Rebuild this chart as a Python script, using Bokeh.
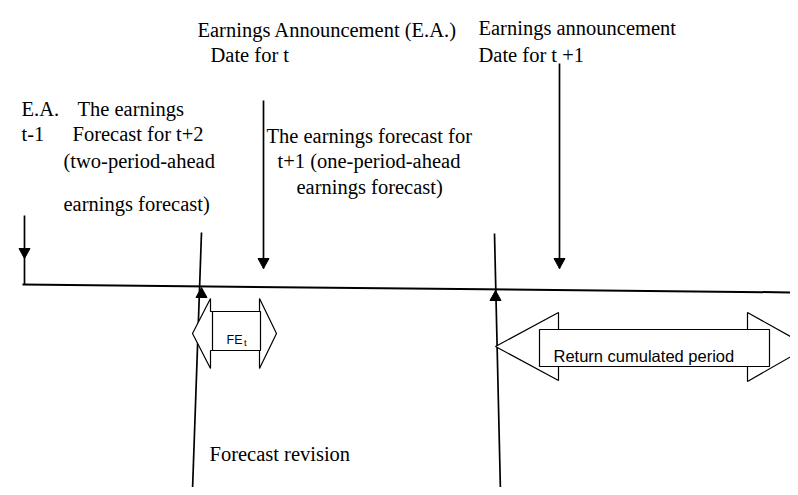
from bokeh.plotting import figure
from bokeh.models import Range1d
from bokeh.core.properties import value
from bokeh.embed import file_html
from bokeh.resources import INLINE

# ---- diagram content (pixel-style coordinates, y grows downward) ----
# main time line
timeline_x = [22, 798]
timeline_y = [284, 292]

# downward event arrows (E.A. t-1, E.A. date t, E.A. date t+1)
down_x = [24, 263, 559]
down_top = [215, 100, 63]
down_tip = [258, 268, 268]
down_end = [284, 268, 268]

# long vertical lines crossing the time line, with up arrowheads
vert_x0 = [201, 494]
vert_y0 = [232, 233]
vert_x1 = [192, 500]
vert_y1 = [490, 492]
up_x = [201, 495]
up_tip = [287, 290]

# serif labels
serif_labels = ["Earnings Announcement (E.A.)", "Date for t",
                "Earnings announcement", "Date for t +1",
                "E.A.", "The earnings", "t-1", "Forecast for t+2",
                "(two-period-ahead", "earnings forecast)",
                "The earnings forecast for", "t+1 (one-period-ahead",
                "earnings forecast)", "Forecast revision"]
serif_x = [197, 210, 478, 478, 21, 77, 21, 72, 63, 63, 266, 277, 296, 209]
serif_y = [29, 54, 27, 54, 108, 108, 133, 133, 160, 203, 135, 160, 186, 453]

# block arrows: FE_t and return cumulated period
fe_arrow_x = [192, 210, 210, 259, 259, 276, 259, 259, 210, 210]
fe_arrow_y = [333, 298, 311, 311, 298, 333, 368, 350, 350, 368]
fe_box = dict(left=212, right=260, top=311, bottom=350)

ret_arrow_x = [495, 558, 558, 747, 747, 808, 747, 747, 558, 558]
ret_arrow_y = [346, 312, 329, 329, 312, 346, 381, 366, 366, 380]
ret_box = dict(left=539, right=769, top=329, bottom=366)

p = figure(width=790, height=487, output_backend="svg", toolbar_location=None,
           x_range=Range1d(0, 790), y_range=Range1d(487, 0),
           min_border=0, background_fill_color="white")
p.axis.visible = False
p.grid.visible = False
p.outline_line_color = None

# time line
p.line(timeline_x, timeline_y, line_color="black", line_width=2)

# downward arrows
for x, t, tip, e in zip(down_x, down_top, down_tip, down_end):
    p.line([x, x], [t, e], line_color="black", line_width=1.7)
    p.patch([x - 5.5, x + 5.5, x], [tip - 10, tip - 10, tip], fill_color="black", line_color="black", line_width=1)

# long verticals with up arrowheads
for x0, y0, x1, y1 in zip(vert_x0, vert_y0, vert_x1, vert_y1):
    p.line([x0, x1], [y0, y1], line_color="black", line_width=1.7)
for x, tip in zip(up_x, up_tip):
    p.patch([x - 5.5, x + 5.5, x], [tip + 10, tip + 10, tip], fill_color="black", line_color="black", line_width=1)

# block arrows
p.patch(fe_arrow_x, fe_arrow_y, fill_color="white", line_color="black", line_width=1.2)
p.quad(fill_color="white", line_color="black", line_width=1.2, **fe_box)
p.patch(ret_arrow_x, ret_arrow_y, fill_color="white", line_color="black", line_width=1.2)
p.quad(fill_color="white", line_color="black", line_width=1.2, **ret_box)

# serif texts
p.text(x=serif_x, y=serif_y, text=serif_labels, text_font=value("Liberation Serif"),
       text_font_size="20.5px", text_color="black", text_baseline="alphabetic", text_align="left")

# sans texts in boxes
p.text(x=[226], y=[339], text=["FE"], text_font=value("Liberation Sans"),
       text_font_size="12.5px", text_color="black", text_baseline="alphabetic")
p.text(x=[243.5], y=[342], text=["t"], text_font=value("Liberation Sans"),
       text_font_size="9.5px", text_color="black", text_baseline="alphabetic")
p.text(x=[553], y=[355], text=["Return cumulated period"], text_font=value("Liberation Sans"),
       text_font_size="16.5px", text_color="black", text_baseline="alphabetic")

open("out.html", "w").write(file_html(p, INLINE))
